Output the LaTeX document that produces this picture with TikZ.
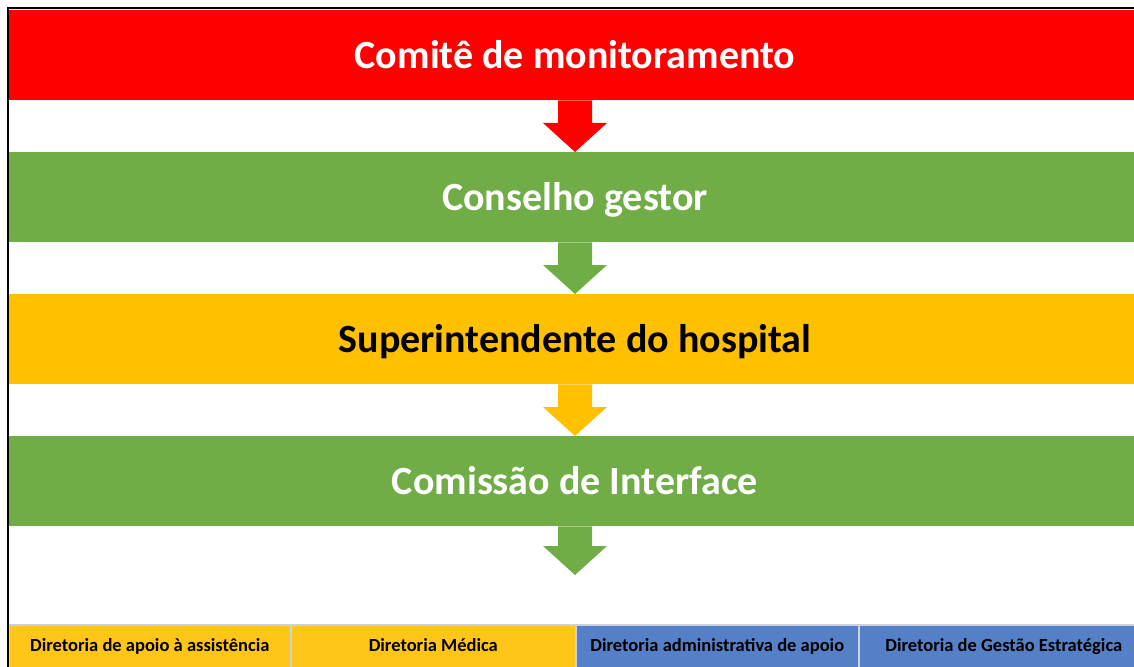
\documentclass[tikz,border=0pt]{standalone}
\usepackage{fontspec}
\setmainfont{Carlito}
\usetikzlibrary{calc}
\definecolor{cRed}{HTML}{FF0000}
\definecolor{cGreen}{HTML}{70AD47}
\definecolor{cYellow}{HTML}{FFC000}
\definecolor{cYellowB}{HTML}{FFC619}
\definecolor{cBlue}{HTML}{5580C8}
\definecolor{cSep}{HTML}{C9D1E3}
\tikzset{
  band/.style={fill=#1, minimum width=1132pt, minimum height=90pt, inner sep=0pt, text height=32pt, text depth=6pt, font=\bfseries\fontsize{40}{46}\selectfont, anchor=north},
  dirbox/.style={fill=#1, draw=cSep, line width=1.6pt, minimum height=44pt, inner sep=0pt, text height=13pt, text depth=3pt, anchor=north west, font=\bfseries\fontsize{18.5}{22}\selectfont},
}
\newcommand{\blockarrow}[3]{% color, from, to
  \fill[#1] ($(#2)+(-17,0)$) -- ($(#3)+(-17,-29)$) -- ($(#3)+(-32,-29)$) -- (#3) -- ($(#3)+(32,-29)$) -- ($(#3)+(17,-29)$) -- ($(#2)+(17,0)$) -- cycle;
}
\begin{document}
\begin{tikzpicture}[x=1pt,y=-1pt]
\useasboundingbox (0,0) rectangle (1134,666);
\clip (0,0) rectangle (1134,666);
\fill[white] (0,0) rectangle (1134,666);
\node[band=cRed, text=white] (b1) at (575,10) {Comitê de monitoramento};
\node[band=cGreen, text=white] (b2) at (575,152) {Conselho gestor};
\node[band=cYellow, text=black] (b3) at (575,294) {Superintendente do hospital};
\node[band=cGreen, text=white] (b4) at (575,436) {Comissão de Interface};
\coordinate (e4) at (575,575);
\blockarrow{cRed}{b1.south}{b2.north}
\blockarrow{cGreen}{b2.south}{b3.north}
\blockarrow{cYellow}{b3.south}{b4.north}
\blockarrow{cGreen}{b4.south}{e4}
\node[dirbox=cYellowB, minimum width=282pt] (d1) at (8,624) {Diretoria de apoio à assistência};
\node[dirbox=cYellowB, minimum width=285pt] (d2) at (290,624) {Diretoria Médica};
\node[dirbox=cBlue, minimum width=283pt] (d3) at (575,624) {Diretoria administrativa de apoio};
\node[dirbox=cBlue, minimum width=290pt] (d4) at (858,624) {Diretoria de Gestão Estratégica};
\draw[black, line width=2pt] (8,670) -- (8,8) -- (1140,8);
\end{tikzpicture}
\end{document}
